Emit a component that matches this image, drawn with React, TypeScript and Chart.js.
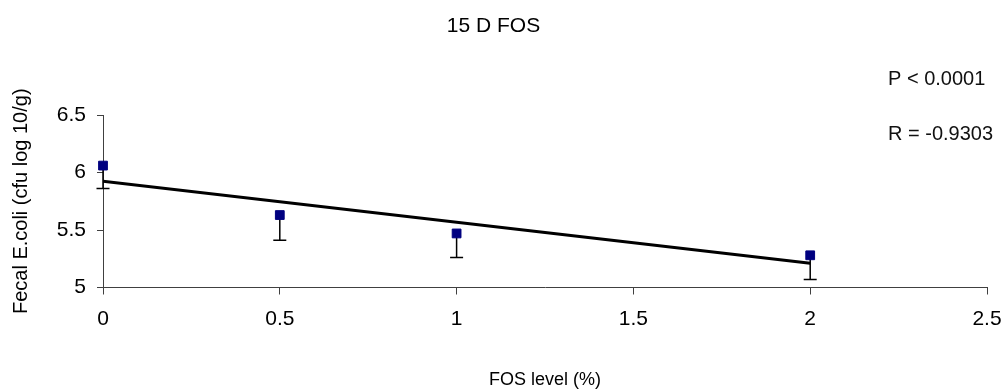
import React, { useEffect, useRef } from "react";
import { Chart, registerables } from "chart.js";

Chart.register(...registerables);

// FOS level (%) of each measured group
const fosLevels = [0, 0.5, 1, 2];
// Mean fecal E.coli (cfu log 10/g)
const meanCounts = [6.06, 5.63, 5.47, 5.28];
// Lower end of each error bar
const errorLower = [5.86, 5.41, 5.26, 5.07];
// Trend line end points
const trendX = [0, 2];
const trendY = [5.925, 5.21];
// Tick labels
const xTickLabels = ["0", "0.5", "1", "1.5", "2", "2.5"];
const yTickLabels = ["5", "5.5", "6", "6.5"];
// Texts
const chartTitle = "15 D FOS";
const xTitle = "FOS level (%)";
const yTitle = "Fecal E.coli (cfu log 10/g)";
const statTexts = ["P < 0.0001", "R = -0.9303"];

const FONT = "'Liberation Sans', Arial, sans-serif";
const AXIS_COLOR = "#404040";

const errorBarPlugin = {
  id: "errorBars",
  beforeDatasetsDraw(chart: any) {
    const { ctx, scales } = chart;
    const xs = scales.x;
    const ys = scales.y;
    ctx.save();
    ctx.strokeStyle = "#000";
    ctx.lineWidth = 1.5;
    fosLevels.forEach((fx, i) => {
      const px = xs.getPixelForValue(fx);
      const py = ys.getPixelForValue(meanCounts[i]);
      const pl = ys.getPixelForValue(errorLower[i]);
      ctx.beginPath();
      ctx.moveTo(px, py);
      ctx.lineTo(px, pl);
      ctx.moveTo(px - 6.5, pl);
      ctx.lineTo(px + 6.5, pl);
      ctx.stroke();
    });
    ctx.restore();
  },
};

const statsPlugin = {
  id: "statTexts",
  afterDraw(chart: any) {
    const { ctx } = chart;
    ctx.save();
    ctx.fillStyle = "#111";
    ctx.font = `20px ${FONT}`;
    ctx.textAlign = "left";
    ctx.textBaseline = "middle";
    const ys = [79, 134];
    statTexts.forEach((t, i) => ctx.fillText(t, 888, ys[i]));
    ctx.restore();
  },
};

export default function App() {
  const canvasRef = useRef<HTMLCanvasElement | null>(null);

  useEffect(() => {
    if (!canvasRef.current) return;
    const chart = new Chart(canvasRef.current, {
      type: "scatter",
      data: {
        datasets: [
          {
            label: "points",
            data: fosLevels.map((x, i) => ({ x, y: meanCounts[i] })),
            showLine: false,
            pointStyle: "rect",
            pointRadius: 6.2,
            pointBorderWidth: 1,
            backgroundColor: "#000080",
            borderColor: "#000080",
            clip: false,
            order: 0,
          },
          {
            label: "trend",
            data: trendX.map((x, i) => ({ x, y: trendY[i] })),
            showLine: true,
            pointRadius: 0,
            borderColor: "#000",
            borderWidth: 3,
            order: 1,
          },
        ],
      },
      options: {
        responsive: false,
        animation: false,
        devicePixelRatio: 1,
        layout: { padding: { left: 0, right: 18, top: 0, bottom: 0 } },
        plugins: {
          legend: { display: false },
          tooltip: { enabled: false },
          title: {
            display: true,
            text: chartTitle,
            color: "#000",
            font: { family: FONT, size: 21, weight: "normal", lineHeight: 1 },
            padding: { top: 16, bottom: 78 },
          },
        },
        scales: {
          x: {
            type: "linear",
            min: 0,
            max: 2.5,
            ticks: {
              stepSize: 0.5,
              color: "#000",
              font: { family: FONT, size: 21 },
              padding: 12,
              maxRotation: 0,
              autoSkip: false,
              callback: (_v: any, i: number) => xTickLabels[i],
            },
            grid: {
              drawOnChartArea: false,
              drawTicks: true,
              tickLength: 7,
              color: AXIS_COLOR,
            },
            border: { display: true, color: AXIS_COLOR },
            title: {
              display: true,
              text: xTitle,
              color: "#000",
              font: { family: FONT, size: 18, lineHeight: 1 },
              padding: { top: 0, bottom: 1 },
            },
            afterFit(scale: any) {
              scale.height = 102.5;
              scale.paddingLeft = 0;
              scale.paddingRight = 0;
            },
          },
          y: {
            type: "linear",
            min: 5,
            max: 6.5,
            ticks: {
              stepSize: 0.5,
              color: "#000",
              font: { family: FONT, size: 21 },
              padding: 11,
              callback: (_v: any, i: number) => yTickLabels[i],
            },
            grid: {
              drawOnChartArea: false,
              drawTicks: true,
              tickLength: 6,
              color: AXIS_COLOR,
            },
            border: { display: true, color: AXIS_COLOR },
            title: {
              display: true,
              text: yTitle,
              color: "#000",
              font: { family: FONT, size: 20, lineHeight: 1 },
              padding: { top: 11, bottom: 0 },
            },
            afterFit(scale: any) {
              scale.width = 103;
              scale.paddingTop = 0;
              scale.paddingBottom = 0;
            },
          },
        },
      },
      plugins: [errorBarPlugin, statsPlugin],
    });
    return () => chart.destroy();
  }, []);

  return (
    <div
      style={{
        position: "fixed",
        left: 0,
        top: 0,
        width: 1005,
        height: 390,
        background: "#fff",
      }}
    >
      <canvas
        ref={canvasRef}
        width={1005}
        height={390}
        style={{ display: "block", width: 1005, height: 390 }}
      />
    </div>
  );
}
